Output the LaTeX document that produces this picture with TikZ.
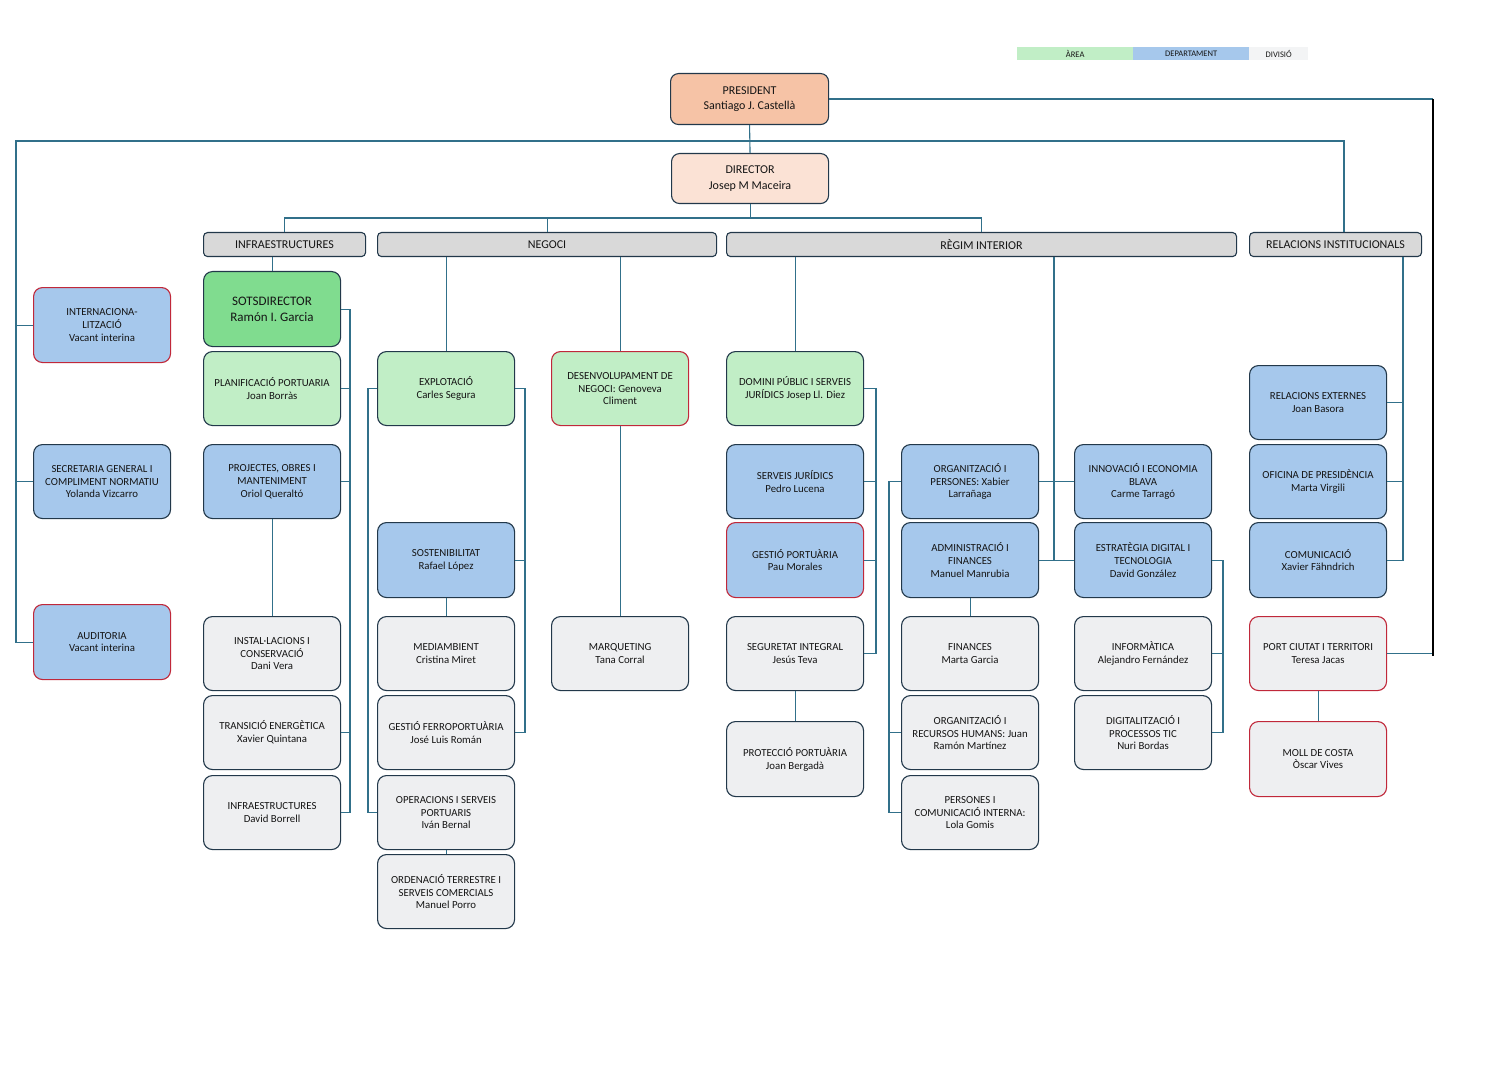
\documentclass[tikz,border=0pt]{standalone}
\usepackage{fontspec}
\setmainfont{Carlito}
\definecolor{areac}{HTML}{C1EEC6}
\definecolor{deptc}{HTML}{A6C8EC}
\definecolor{divc}{HTML}{EEEFF1}
\definecolor{sotsc}{HTML}{80DC8F}
\definecolor{presc}{HTML}{F6C3A6}
\definecolor{dirc}{HTML}{FBE2D5}
\definecolor{hdrc}{HTML}{D9D9D9}
\definecolor{bordc}{HTML}{22384A}
\definecolor{redc}{HTML}{C0283A}
\definecolor{linec}{HTML}{31708A}
\definecolor{txtc}{HTML}{151515}
\begin{document}
\begin{tikzpicture}[x=1pt,y=-1pt,
  box/.style={draw=bordc, line width=1.1pt, rounded corners=9pt, minimum width=137pt, minimum height=74pt, anchor=north west, align=center, font=\fontsize{10.8}{12.8}\selectfont, text=txtc, inner sep=2pt},
  area/.style={box, fill=areac},
  dept/.style={box, fill=deptc},
  divi/.style={box, fill=divc},
  vac/.style={draw=redc},
  hdr/.style={draw=bordc, line width=1.1pt, rounded corners=4pt, fill=hdrc, minimum height=24pt, anchor=north west, font=\fontsize{12}{13}\selectfont, text=txtc, inner sep=0pt},
  leg/.style={anchor=north west, minimum height=13pt, inner sep=0pt, font=\fontsize{8.5}{9}\selectfont, text=txtc},
  conn/.style={draw=linec, line width=1.1pt},
  blk/.style={draw=black, line width=1.8pt}
]
\useasboundingbox (0,0) rectangle (1509,1067);
\fill[white] (0,0) rectangle (1509,1067);

% legend
\node[leg, fill=areac, minimum width=116pt] (lga) at (1017,47) {ÀREA};
\node[leg, fill=deptc, minimum width=116pt] (lgd) at (1133,47) {DEPARTAMENT};
\node[leg, fill=divc!70!white, minimum width=59pt] (lgv) at (1249,47) {DIVISIÓ};

% top
\node[box, fill=presc, minimum width=158pt, minimum height=51pt, rounded corners=8pt, font=\fontsize{12}{15.5}\selectfont] (pres) at (670,73) {PRESIDENT\\Santiago J. Castellà};
\node[box, fill=dirc, minimum width=157pt, minimum height=50pt, rounded corners=8pt, font=\fontsize{12}{15.5}\selectfont] (dir) at (671,153) {DIRECTOR\\Josep M Maceira};

% headers
\node[hdr, minimum width=162pt] (infh) at (203,232) {INFRAESTRUCTURES};
\node[hdr, minimum width=339pt] (negh) at (377,232) {NEGOCI};
\node[hdr, minimum width=510pt] (regh) at (726,232) {RÈGIM INTERIOR};
\node[hdr, minimum width=172pt] (relh) at (1249,232) {RELACIONS INSTITUCIONALS};

% left column
\node[dept, vac, minimum height=75pt] (intern) at (33,287) {INTERNACIONA-\\LITZACIÓ\\Vacant interina};
\node[dept] (secr) at (33,444) {SECRETARIA GENERAL I\\COMPLIMENT NORMATIU\\Yolanda Vizcarro};
\node[dept, vac, minimum height=75pt] (audit) at (33,604) {AUDITORIA\\Vacant interina};

% infraestructures
\node[box, fill=sotsc, minimum height=75pt, font=\fontsize{13}{16}\selectfont] (sots) at (203,271) {SOTSDIRECTOR\\Ramón I. Garcia};
\node[area] (plan) at (203,351) {PLANIFICACIÓ PORTUARIA\\Joan Borràs};
\node[dept] (proj) at (203,444) {PROJECTES, OBRES I\\MANTENIMENT\\Oriol Queraltó};
\node[divi] (inst) at (203,616) {INSTAL·LACIONS I\\CONSERVACIÓ\\Dani Vera};
\node[divi] (trans) at (203,695) {TRANSICIÓ ENERGÈTICA\\Xavier Quintana};
\node[divi] (infr) at (203,775) {INFRAESTRUCTURES\\David Borrell};

% negoci
\node[area] (expl) at (377,351) {EXPLOTACIÓ\\Carles Segura};
\node[area, vac] (desen) at (551,351) {DESENVOLUPAMENT DE\\NEGOCI: Genoveva\\Climent};
\node[dept, minimum height=75pt] (sost) at (377,522) {SOSTENIBILITAT\\Rafael López};
\node[divi] (medi) at (377,616) {MEDIAMBIENT\\Cristina Miret};
\node[divi] (ferro) at (377,695) {GESTIÓ FERROPORTUÀRIA\\José Luis Román};
\node[divi] (oper) at (377,775) {OPERACIONS I SERVEIS\\PORTUARIS\\Iván Bernal};
\node[divi] (orden) at (377,854) {ORDENACIÓ TERRESTRE I\\SERVEIS COMERCIALS\\Manuel Porro};
\node[divi] (marq) at (551,616) {MARQUETING\\Tana Corral};

% regim interior
\node[area] (domini) at (726,351) {DOMINI PÚBLIC I SERVEIS\\JURÍDICS Josep Ll. Diez};
\node[dept] (servj) at (726,444) {SERVEIS JURÍDICS\\Pedro Lucena};
\node[dept, vac, minimum height=75pt] (gestp) at (726,522) {GESTIÓ PORTUÀRIA\\Pau Morales};
\node[divi] (segur) at (726,616) {SEGURETAT INTEGRAL\\Jesús Teva};
\node[divi, minimum height=75pt] (prot) at (726,721) {PROTECCIÓ PORTUÀRIA\\Joan Bergadà};
\node[dept] (orgp) at (901,444) {ORGANITZACIÓ I\\PERSONES: Xabier\\Larrañaga};
\node[dept, minimum height=75pt] (adm) at (901,522) {ADMINISTRACIÓ I\\FINANCES\\Manuel Manrubia};
\node[divi] (fin) at (901,616) {FINANCES\\Marta Garcia};
\node[divi] (orgrh) at (901,695) {ORGANITZACIÓ I\\RECURSOS HUMANS: Juan\\Ramón Martínez};
\node[divi] (pers) at (901,775) {PERSONES I\\COMUNICACIÓ INTERNA:\\Lola Gomis};
\node[dept] (innov) at (1074,444) {INNOVACIÓ I ECONOMIA\\BLAVA\\Carme Tarragó};
\node[dept, minimum height=75pt] (estr) at (1074,522) {ESTRATÈGIA DIGITAL I\\TECNOLOGIA\\David González};
\node[divi] (info) at (1074,616) {INFORMÀTICA\\Alejandro Fernández};
\node[divi] (digit) at (1074,695) {DIGITALITZACIÓ I\\PROCESSOS TIC\\Nuri Bordas};

% relacions institucionals
\node[dept] (relext) at (1249,365) {RELACIONS EXTERNES\\Joan Basora};
\node[dept] (ofic) at (1249,444) {OFICINA DE PRESIDÈNCIA\\Marta Virgili};
\node[dept, minimum height=75pt] (comu) at (1249,522) {COMUNICACIÓ\\Xavier Fähndrich};
\node[divi, vac] (portc) at (1249,616) {PORT CIUTAT I TERRITORI\\Teresa Jacas};
\node[divi, vac, minimum height=75pt] (moll) at (1249,721) {MOLL DE COSTA\\Òscar Vives};

% ---- connectors ----
\coordinate (dy) at (0,218);
\coordinate (hl) at (16,141);
\coordinate (hr) at (1344,141);
\coordinate (pr) at (1433,0);
\coordinate (bInf) at (350,0);
\coordinate (bNl) at (368,0);
\coordinate (bNr) at (525,0);
\coordinate (bRr) at (876,0);
\coordinate (bOl) at (889,0);
\coordinate (bMid) at (1054,0);
\coordinate (bEr) at (1223,0);
\coordinate (bRel) at (1403,0);

\draw[conn] (pres.south) -- (dir.north);
\draw[conn] (audit.west) -- (audit.west -| hl) -- (hl) -- (hr) -- (hr |- relh.north);
\draw[conn] (intern.west) -- (intern.west -| hl);
\draw[conn] (secr.west) -- (secr.west -| hl);

\draw[conn] (pres.east) -- (pres.east -| pr);
\draw[conn] (portc.east) -- (portc.east -| pr);
\draw[blk] (pres.east -| pr) -- ([yshift=-2pt]portc.east -| pr);

\draw[conn] (dir.south) -- (dir.south |- dy);
\draw[conn] (infh.north) -- (infh.north |- dy) -- (regh.north |- dy) -- (regh.north);
\draw[conn] (negh.north) -- (negh.north |- dy);

% infraestructures
\draw[conn] (sots.north) -- (sots.north |- infh.south);
\draw[conn] (sots.east) -- (sots.east -| bInf) -- (infr.east -| bInf) -- (infr.east);
\draw[conn] (plan.east) -- (plan.east -| bInf);
\draw[conn] (proj.east) -- (proj.east -| bInf);
\draw[conn] (trans.east) -- (trans.east -| bInf);
\draw[conn] (proj.south) -- (inst.north);

% negoci
\draw[conn] (expl.north) -- (expl.north |- negh.south);
\draw[conn] (desen.north) -- (desen.north |- negh.south);
\draw[conn] (expl.west) -- (expl.west -| bNl) -- (oper.west -| bNl) -- (oper.west);
\draw[conn] (expl.east) -- (expl.east -| bNr) -- (ferro.east -| bNr) -- (ferro.east);
\draw[conn] (sost.east) -- (sost.east -| bNr);
\draw[conn] (sost.south) -- (medi.north);
\draw[conn] (oper.south) -- (orden.north);
\draw[conn] (desen.south) -- (marq.north);

% regim interior
\draw[conn] (domini.north) -- (domini.north |- regh.south);
\draw[conn] (domini.east) -- (domini.east -| bRr) -- (segur.east -| bRr) -- (segur.east);
\draw[conn] (servj.east) -- (servj.east -| bRr);
\draw[conn] (gestp.east) -- (gestp.east -| bRr);
\draw[conn] (segur.south) -- (prot.north);
\draw[conn] (bMid |- regh.south) -- (bMid |- adm.east);
\draw[conn] (orgp.east) -- (innov.west);
\draw[conn] (adm.east) -- (estr.west);
\draw[conn] (orgp.west) -- (orgp.west -| bOl) -- (pers.west -| bOl) -- (pers.west);
\draw[conn] (orgrh.west) -- (orgrh.west -| bOl);
\draw[conn] (adm.south) -- (fin.north);
\draw[conn] (estr.east) -- (estr.east -| bEr) -- (digit.east -| bEr) -- (digit.east);
\draw[conn] (info.east) -- (info.east -| bEr);

% relacions institucionals
\draw[conn] (bRel |- relh.south) -- (bRel |- comu.east) -- (comu.east);
\draw[conn] (relext.east) -- (relext.east -| bRel);
\draw[conn] (ofic.east) -- (ofic.east -| bRel);
\draw[conn] (portc.south) -- (moll.north);
\end{tikzpicture}
\end{document}
